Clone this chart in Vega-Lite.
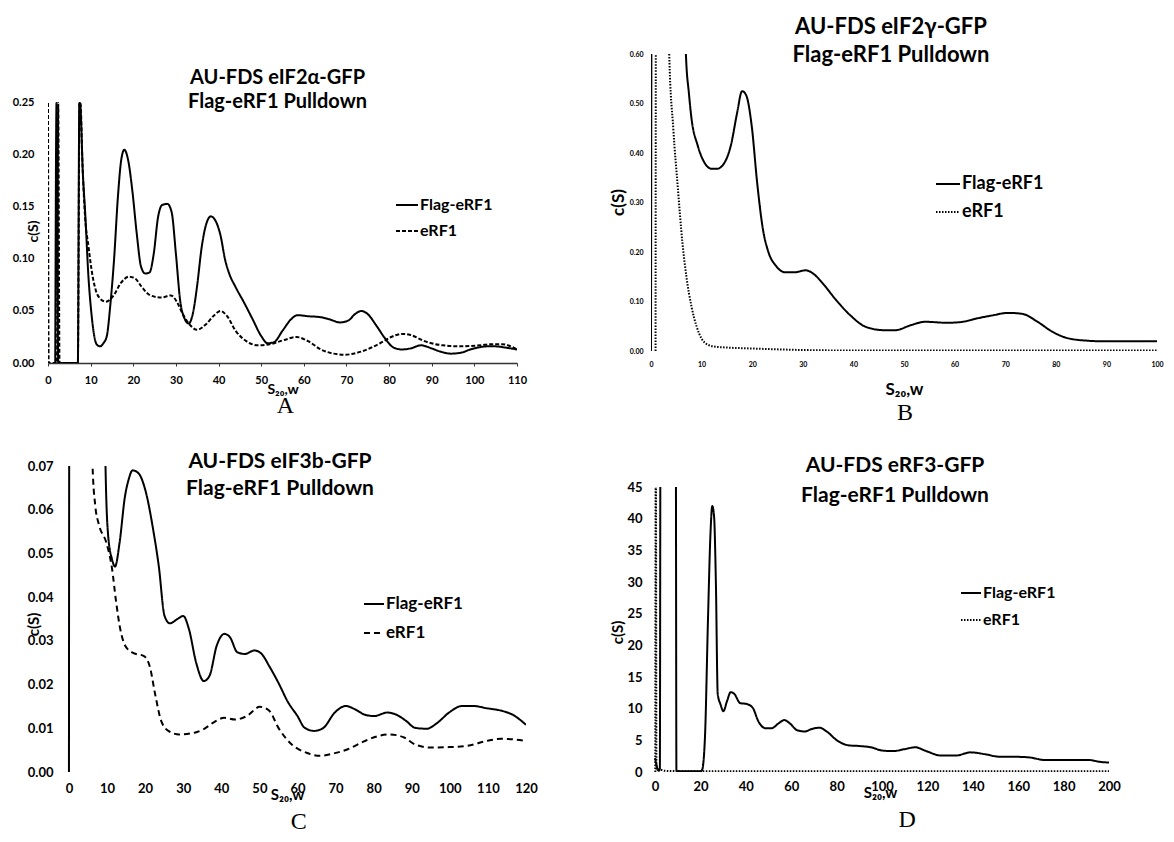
{
"$schema": "https://vega.github.io/schema/vega-lite/v6.json",
"padding": {"left": 12, "top": 16, "right": 4, "bottom": 4},
"background": "white",
"config": {
  "font": "Lato, Open Sans, sans-serif",
  "view": {"stroke": null},
  "axis": {"labelFontWeight": "bold", "titleFontWeight": "bold", "labelColor": "#000", "titleColor": "#000", "grid": false, "labelOverlap": false, "labelFlush": false},
  "title": {"color": "#000", "fontWeight": "bold", "font": "Lato, Open Sans, sans-serif"},
  "legend": {"labelColor": "#000", "labelFontWeight": "bold"}
},
"datasets": {
  "A": [
    {"s":1.7,"c":0,"series":"Flag-eRF1"},{"s":2.0,"c":0.25,"series":"Flag-eRF1"},{"s":2.4,"c":0,"series":"Flag-eRF1"},{"s":7.0,"c":0,"series":"Flag-eRF1"},{"s":7.35,"c":0.25,"series":"Flag-eRF1"},{"s":7.5,"c":0.25,"series":"Flag-eRF1"},{"s":8.2,"c":0.18,"series":"Flag-eRF1"},{"s":8.7,"c":0.146,"series":"Flag-eRF1"},{"s":9.5,"c":0.082,"series":"Flag-eRF1"},{"s":10.2,"c":0.047,"series":"Flag-eRF1"},{"s":11.4,"c":0.018,"series":"Flag-eRF1"},{"s":12.2,"c":0.016,"series":"Flag-eRF1"},{"s":13.0,"c":0.019,"series":"Flag-eRF1"},{"s":13.8,"c":0.026,"series":"Flag-eRF1"},{"s":14.6,"c":0.055,"series":"Flag-eRF1"},{"s":15.5,"c":0.1,"series":"Flag-eRF1"},{"s":16.4,"c":0.16,"series":"Flag-eRF1"},{"s":17.2,"c":0.196,"series":"Flag-eRF1"},{"s":17.9,"c":0.205,"series":"Flag-eRF1"},{"s":18.8,"c":0.195,"series":"Flag-eRF1"},{"s":19.8,"c":0.165,"series":"Flag-eRF1"},{"s":20.8,"c":0.125,"series":"Flag-eRF1"},{"s":21.8,"c":0.093,"series":"Flag-eRF1"},{"s":22.8,"c":0.086,"series":"Flag-eRF1"},{"s":23.8,"c":0.087,"series":"Flag-eRF1"},{"s":24.8,"c":0.105,"series":"Flag-eRF1"},{"s":25.8,"c":0.14,"series":"Flag-eRF1"},{"s":26.8,"c":0.152,"series":"Flag-eRF1"},{"s":28.0,"c":0.153,"series":"Flag-eRF1"},{"s":29.0,"c":0.145,"series":"Flag-eRF1"},{"s":30.0,"c":0.105,"series":"Flag-eRF1"},{"s":31.0,"c":0.06,"series":"Flag-eRF1"},{"s":32.0,"c":0.043,"series":"Flag-eRF1"},{"s":33.0,"c":0.038,"series":"Flag-eRF1"},{"s":34.0,"c":0.048,"series":"Flag-eRF1"},{"s":35.0,"c":0.075,"series":"Flag-eRF1"},{"s":36.0,"c":0.11,"series":"Flag-eRF1"},{"s":37.0,"c":0.132,"series":"Flag-eRF1"},{"s":38.2,"c":0.141,"series":"Flag-eRF1"},{"s":39.5,"c":0.135,"series":"Flag-eRF1"},{"s":40.5,"c":0.122,"series":"Flag-eRF1"},{"s":41.5,"c":0.1,"series":"Flag-eRF1"},{"s":42.5,"c":0.086,"series":"Flag-eRF1"},{"s":44.0,"c":0.073,"series":"Flag-eRF1"},{"s":46.0,"c":0.058,"series":"Flag-eRF1"},{"s":48.0,"c":0.042,"series":"Flag-eRF1"},{"s":50.0,"c":0.026,"series":"Flag-eRF1"},{"s":51.5,"c":0.019,"series":"Flag-eRF1"},{"s":53.0,"c":0.02,"series":"Flag-eRF1"},{"s":55.0,"c":0.031,"series":"Flag-eRF1"},{"s":57.0,"c":0.042,"series":"Flag-eRF1"},{"s":58.5,"c":0.046,"series":"Flag-eRF1"},{"s":61.0,"c":0.045,"series":"Flag-eRF1"},{"s":64.0,"c":0.044,"series":"Flag-eRF1"},{"s":66.0,"c":0.042,"series":"Flag-eRF1"},{"s":68.5,"c":0.039,"series":"Flag-eRF1"},{"s":70.5,"c":0.041,"series":"Flag-eRF1"},{"s":72.0,"c":0.047,"series":"Flag-eRF1"},{"s":73.5,"c":0.05,"series":"Flag-eRF1"},{"s":75.0,"c":0.047,"series":"Flag-eRF1"},{"s":77.0,"c":0.036,"series":"Flag-eRF1"},{"s":79.0,"c":0.024,"series":"Flag-eRF1"},{"s":81.0,"c":0.015,"series":"Flag-eRF1"},{"s":83.0,"c":0.013,"series":"Flag-eRF1"},{"s":85.0,"c":0.014,"series":"Flag-eRF1"},{"s":87.5,"c":0.017,"series":"Flag-eRF1"},{"s":90.0,"c":0.014,"series":"Flag-eRF1"},{"s":92.0,"c":0.011,"series":"Flag-eRF1"},{"s":94.5,"c":0.009,"series":"Flag-eRF1"},{"s":97.0,"c":0.01,"series":"Flag-eRF1"},{"s":99.0,"c":0.013,"series":"Flag-eRF1"},{"s":101.0,"c":0.015,"series":"Flag-eRF1"},{"s":103.0,"c":0.016,"series":"Flag-eRF1"},{"s":105.0,"c":0.016,"series":"Flag-eRF1"},{"s":107.0,"c":0.015,"series":"Flag-eRF1"},{"s":110.0,"c":0.013,"series":"Flag-eRF1"},
    {"s":0,"c":0.25,"series":"eRF1"},{"s":0.15,"c":0,"series":"eRF1"},{"s":2.1,"c":0,"series":"eRF1"},{"s":2.4,"c":0.25,"series":"eRF1"},{"s":2.7,"c":0,"series":"eRF1"},{"s":7.0,"c":0,"series":"eRF1"},{"s":7.4,"c":0.25,"series":"eRF1"},{"s":7.6,"c":0.25,"series":"eRF1"},{"s":8.1,"c":0.19,"series":"eRF1"},{"s":8.7,"c":0.14,"series":"eRF1"},{"s":9.5,"c":0.112,"series":"eRF1"},{"s":10.2,"c":0.09,"series":"eRF1"},{"s":11.2,"c":0.07,"series":"eRF1"},{"s":12.2,"c":0.062,"series":"eRF1"},{"s":13.6,"c":0.059,"series":"eRF1"},{"s":15.4,"c":0.065,"series":"eRF1"},{"s":17.1,"c":0.077,"series":"eRF1"},{"s":19.0,"c":0.083,"series":"eRF1"},{"s":20.5,"c":0.081,"series":"eRF1"},{"s":22.0,"c":0.073,"series":"eRF1"},{"s":24.0,"c":0.065,"series":"eRF1"},{"s":26.6,"c":0.063,"series":"eRF1"},{"s":28.8,"c":0.065,"series":"eRF1"},{"s":30.2,"c":0.059,"series":"eRF1"},{"s":31.5,"c":0.048,"series":"eRF1"},{"s":33.0,"c":0.038,"series":"eRF1"},{"s":35.0,"c":0.032,"series":"eRF1"},{"s":37.0,"c":0.037,"series":"eRF1"},{"s":39.0,"c":0.046,"series":"eRF1"},{"s":40.5,"c":0.05,"series":"eRF1"},{"s":42.0,"c":0.045,"series":"eRF1"},{"s":44.0,"c":0.031,"series":"eRF1"},{"s":46.5,"c":0.021,"series":"eRF1"},{"s":49.2,"c":0.017,"series":"eRF1"},{"s":52.0,"c":0.018,"series":"eRF1"},{"s":55.3,"c":0.022,"series":"eRF1"},{"s":58.3,"c":0.025,"series":"eRF1"},{"s":61.0,"c":0.021,"series":"eRF1"},{"s":64.0,"c":0.013,"series":"eRF1"},{"s":67.0,"c":0.009,"series":"eRF1"},{"s":69.6,"c":0.008,"series":"eRF1"},{"s":73.5,"c":0.011,"series":"eRF1"},{"s":77.9,"c":0.019,"series":"eRF1"},{"s":80.5,"c":0.025,"series":"eRF1"},{"s":83.0,"c":0.028,"series":"eRF1"},{"s":85.0,"c":0.027,"series":"eRF1"},{"s":88.3,"c":0.021,"series":"eRF1"},{"s":92.6,"c":0.017,"series":"eRF1"},{"s":97.0,"c":0.016,"series":"eRF1"},{"s":101.3,"c":0.017,"series":"eRF1"},{"s":104.0,"c":0.018,"series":"eRF1"},{"s":106.5,"c":0.018,"series":"eRF1"},{"s":110.0,"c":0.013,"series":"eRF1"}
  ],
  "B": [
    {"s":0,"c":0,"series":"Flag-eRF1"},{"s":0.15,"c":0.9,"series":"Flag-eRF1"},{"s":6.6,"c":0.9,"series":"Flag-eRF1"},{"s":6.9,"c":0.6,"series":"Flag-eRF1"},{"s":7.5,"c":0.52,"series":"Flag-eRF1"},{"s":8.0,"c":0.47,"series":"Flag-eRF1"},{"s":9.2,"c":0.416,"series":"Flag-eRF1"},{"s":10.6,"c":0.38,"series":"Flag-eRF1"},{"s":12.0,"c":0.368,"series":"Flag-eRF1"},{"s":13.0,"c":0.368,"series":"Flag-eRF1"},{"s":14.3,"c":0.377,"series":"Flag-eRF1"},{"s":15.8,"c":0.416,"series":"Flag-eRF1"},{"s":17.0,"c":0.48,"series":"Flag-eRF1"},{"s":18.0,"c":0.525,"series":"Flag-eRF1"},{"s":18.8,"c":0.517,"series":"Flag-eRF1"},{"s":19.9,"c":0.455,"series":"Flag-eRF1"},{"s":21.0,"c":0.338,"series":"Flag-eRF1"},{"s":22.1,"c":0.247,"series":"Flag-eRF1"},{"s":23.2,"c":0.2,"series":"Flag-eRF1"},{"s":24.7,"c":0.172,"series":"Flag-eRF1"},{"s":26.5,"c":0.159,"series":"Flag-eRF1"},{"s":28.4,"c":0.159,"series":"Flag-eRF1"},{"s":30.6,"c":0.163,"series":"Flag-eRF1"},{"s":32.1,"c":0.156,"series":"Flag-eRF1"},{"s":33.9,"c":0.137,"series":"Flag-eRF1"},{"s":36.5,"c":0.104,"series":"Flag-eRF1"},{"s":39.4,"c":0.072,"series":"Flag-eRF1"},{"s":42.4,"c":0.049,"series":"Flag-eRF1"},{"s":46.1,"c":0.042,"series":"Flag-eRF1"},{"s":48.3,"c":0.042,"series":"Flag-eRF1"},{"s":51.3,"c":0.052,"series":"Flag-eRF1"},{"s":54.2,"c":0.059,"series":"Flag-eRF1"},{"s":58.6,"c":0.057,"series":"Flag-eRF1"},{"s":61.6,"c":0.059,"series":"Flag-eRF1"},{"s":64.5,"c":0.066,"series":"Flag-eRF1"},{"s":67.5,"c":0.072,"series":"Flag-eRF1"},{"s":70.5,"c":0.077,"series":"Flag-eRF1"},{"s":73.4,"c":0.075,"series":"Flag-eRF1"},{"s":76.4,"c":0.059,"series":"Flag-eRF1"},{"s":79.3,"c":0.039,"series":"Flag-eRF1"},{"s":82.3,"c":0.026,"series":"Flag-eRF1"},{"s":86.0,"c":0.021,"series":"Flag-eRF1"},{"s":89.7,"c":0.0195,"series":"Flag-eRF1"},{"s":93.4,"c":0.0195,"series":"Flag-eRF1"},{"s":100,"c":0.0195,"series":"Flag-eRF1"},
    {"s":0.9,"c":0,"series":"eRF1"},{"s":1.0,"c":0.9,"series":"eRF1"},{"s":3.4,"c":0.9,"series":"eRF1"},{"s":3.6,"c":0.6,"series":"eRF1"},{"s":4.4,"c":0.45,"series":"eRF1"},{"s":5.3,"c":0.33,"series":"eRF1"},{"s":6.2,"c":0.22,"series":"eRF1"},{"s":7.0,"c":0.15,"series":"eRF1"},{"s":8.0,"c":0.09,"series":"eRF1"},{"s":9.0,"c":0.05,"series":"eRF1"},{"s":10.0,"c":0.025,"series":"eRF1"},{"s":11.0,"c":0.014,"series":"eRF1"},{"s":12.5,"c":0.009,"series":"eRF1"},{"s":15,"c":0.007,"series":"eRF1"},{"s":20,"c":0.005,"series":"eRF1"},{"s":30,"c":0.002,"series":"eRF1"},{"s":40,"c":0.001,"series":"eRF1"},{"s":100,"c":0.001,"series":"eRF1"}
  ],
  "C": [
    {"s":0,"c":0,"series":"Flag-eRF1"},{"s":0.1,"c":0.09,"series":"Flag-eRF1"},{"s":9.3,"c":0.09,"series":"Flag-eRF1"},{"s":9.6,"c":0.07,"series":"Flag-eRF1"},{"s":10.3,"c":0.054,"series":"Flag-eRF1"},{"s":11.3,"c":0.0487,"series":"Flag-eRF1"},{"s":12.1,"c":0.047,"series":"Flag-eRF1"},{"s":13.3,"c":0.0525,"series":"Flag-eRF1"},{"s":14.7,"c":0.063,"series":"Flag-eRF1"},{"s":15.7,"c":0.067,"series":"Flag-eRF1"},{"s":16.7,"c":0.069,"series":"Flag-eRF1"},{"s":18.2,"c":0.0684,"series":"Flag-eRF1"},{"s":20.2,"c":0.064,"series":"Flag-eRF1"},{"s":22.1,"c":0.0555,"series":"Flag-eRF1"},{"s":23.6,"c":0.047,"series":"Flag-eRF1"},{"s":25.1,"c":0.0357,"series":"Flag-eRF1"},{"s":26.5,"c":0.034,"series":"Flag-eRF1"},{"s":28.5,"c":0.035,"series":"Flag-eRF1"},{"s":30,"c":0.0357,"series":"Flag-eRF1"},{"s":31.5,"c":0.0327,"series":"Flag-eRF1"},{"s":33.4,"c":0.025,"series":"Flag-eRF1"},{"s":35.4,"c":0.0208,"series":"Flag-eRF1"},{"s":36.9,"c":0.022,"series":"Flag-eRF1"},{"s":38.8,"c":0.0289,"series":"Flag-eRF1"},{"s":40.8,"c":0.0316,"series":"Flag-eRF1"},{"s":42.3,"c":0.0308,"series":"Flag-eRF1"},{"s":44.2,"c":0.0274,"series":"Flag-eRF1"},{"s":46.2,"c":0.027,"series":"Flag-eRF1"},{"s":48.7,"c":0.0278,"series":"Flag-eRF1"},{"s":50.6,"c":0.027,"series":"Flag-eRF1"},{"s":52.6,"c":0.0242,"series":"Flag-eRF1"},{"s":55,"c":0.0204,"series":"Flag-eRF1"},{"s":57.5,"c":0.016,"series":"Flag-eRF1"},{"s":60,"c":0.0128,"series":"Flag-eRF1"},{"s":61.9,"c":0.0101,"series":"Flag-eRF1"},{"s":64.4,"c":0.0094,"series":"Flag-eRF1"},{"s":66.8,"c":0.0101,"series":"Flag-eRF1"},{"s":69.8,"c":0.0136,"series":"Flag-eRF1"},{"s":72.7,"c":0.0151,"series":"Flag-eRF1"},{"s":75.2,"c":0.0143,"series":"Flag-eRF1"},{"s":77.7,"c":0.0131,"series":"Flag-eRF1"},{"s":80.1,"c":0.0128,"series":"Flag-eRF1"},{"s":83.6,"c":0.0136,"series":"Flag-eRF1"},{"s":86,"c":0.0131,"series":"Flag-eRF1"},{"s":88.5,"c":0.0117,"series":"Flag-eRF1"},{"s":90.9,"c":0.0101,"series":"Flag-eRF1"},{"s":93.9,"c":0.0099,"series":"Flag-eRF1"},{"s":96.8,"c":0.0113,"series":"Flag-eRF1"},{"s":99.8,"c":0.0136,"series":"Flag-eRF1"},{"s":103.2,"c":0.0151,"series":"Flag-eRF1"},{"s":106.2,"c":0.0151,"series":"Flag-eRF1"},{"s":109.6,"c":0.0146,"series":"Flag-eRF1"},{"s":113.6,"c":0.014,"series":"Flag-eRF1"},{"s":116.5,"c":0.0131,"series":"Flag-eRF1"},{"s":120,"c":0.0108,"series":"Flag-eRF1"},
    {"s":5.9,"c":0.09,"series":"eRF1"},{"s":6.2,"c":0.07,"series":"eRF1"},{"s":6.9,"c":0.061,"series":"eRF1"},{"s":7.9,"c":0.0565,"series":"eRF1"},{"s":9.8,"c":0.0525,"series":"eRF1"},{"s":11.3,"c":0.0466,"series":"eRF1"},{"s":12.3,"c":0.0395,"series":"eRF1"},{"s":13.3,"c":0.0335,"series":"eRF1"},{"s":14.7,"c":0.029,"series":"eRF1"},{"s":16.7,"c":0.0273,"series":"eRF1"},{"s":19.7,"c":0.0265,"series":"eRF1"},{"s":21.2,"c":0.0242,"series":"eRF1"},{"s":22.7,"c":0.0175,"series":"eRF1"},{"s":24.1,"c":0.012,"series":"eRF1"},{"s":26.1,"c":0.0094,"series":"eRF1"},{"s":29,"c":0.0086,"series":"eRF1"},{"s":33,"c":0.009,"series":"eRF1"},{"s":35.4,"c":0.0098,"series":"eRF1"},{"s":37.9,"c":0.0113,"series":"eRF1"},{"s":40.8,"c":0.0124,"series":"eRF1"},{"s":43.7,"c":0.012,"series":"eRF1"},{"s":46.7,"c":0.0128,"series":"eRF1"},{"s":50.1,"c":0.0149,"series":"eRF1"},{"s":52.6,"c":0.014,"series":"eRF1"},{"s":55,"c":0.0101,"series":"eRF1"},{"s":58.5,"c":0.0063,"series":"eRF1"},{"s":62.4,"c":0.0044,"series":"eRF1"},{"s":65.9,"c":0.0037,"series":"eRF1"},{"s":69.3,"c":0.0042,"series":"eRF1"},{"s":73.2,"c":0.0052,"series":"eRF1"},{"s":77.7,"c":0.0071,"series":"eRF1"},{"s":81.1,"c":0.0082,"series":"eRF1"},{"s":84.1,"c":0.0086,"series":"eRF1"},{"s":88,"c":0.0079,"series":"eRF1"},{"s":90.9,"c":0.0063,"series":"eRF1"},{"s":94.9,"c":0.0056,"series":"eRF1"},{"s":99.8,"c":0.0057,"series":"eRF1"},{"s":104.7,"c":0.006,"series":"eRF1"},{"s":109.6,"c":0.0071,"series":"eRF1"},{"s":113.6,"c":0.0076,"series":"eRF1"},{"s":120,"c":0.0071,"series":"eRF1"}
  ],
  "D": [
    {"s":0,"c":2.2,"series":"Flag-eRF1"},{"s":1.6,"c":0.2,"series":"Flag-eRF1"},{"s":2.1,"c":0.5,"series":"Flag-eRF1"},{"s":2.4,"c":60,"series":"Flag-eRF1"},{"s":9.1,"c":60,"series":"Flag-eRF1"},{"s":9.4,"c":0.2,"series":"Flag-eRF1"},{"s":12,"c":0.1,"series":"Flag-eRF1"},{"s":20,"c":0.1,"series":"Flag-eRF1"},{"s":20.7,"c":0.3,"series":"Flag-eRF1"},{"s":22,"c":5.7,"series":"Flag-eRF1"},{"s":23.3,"c":24,"series":"Flag-eRF1"},{"s":24.4,"c":37.6,"series":"Flag-eRF1"},{"s":25.2,"c":42,"series":"Flag-eRF1"},{"s":26,"c":40.3,"series":"Flag-eRF1"},{"s":26.8,"c":29.7,"series":"Flag-eRF1"},{"s":27.6,"c":12.3,"series":"Flag-eRF1"},{"s":28.8,"c":10.7,"series":"Flag-eRF1"},{"s":30.1,"c":9.6,"series":"Flag-eRF1"},{"s":31.7,"c":11.2,"series":"Flag-eRF1"},{"s":33.3,"c":12.6,"series":"Flag-eRF1"},{"s":35,"c":12.3,"series":"Flag-eRF1"},{"s":37.4,"c":10.9,"series":"Flag-eRF1"},{"s":40.7,"c":10.7,"series":"Flag-eRF1"},{"s":43.1,"c":10.1,"series":"Flag-eRF1"},{"s":45.5,"c":8,"series":"Flag-eRF1"},{"s":48.8,"c":6.9,"series":"Flag-eRF1"},{"s":51.2,"c":6.9,"series":"Flag-eRF1"},{"s":54.5,"c":7.7,"series":"Flag-eRF1"},{"s":56.9,"c":8.2,"series":"Flag-eRF1"},{"s":59.3,"c":7.7,"series":"Flag-eRF1"},{"s":62.6,"c":6.6,"series":"Flag-eRF1"},{"s":65.9,"c":6.4,"series":"Flag-eRF1"},{"s":69.1,"c":6.8,"series":"Flag-eRF1"},{"s":72.4,"c":7,"series":"Flag-eRF1"},{"s":75.6,"c":6.4,"series":"Flag-eRF1"},{"s":80.5,"c":4.9,"series":"Flag-eRF1"},{"s":85.4,"c":4.2,"series":"Flag-eRF1"},{"s":90.2,"c":4.1,"series":"Flag-eRF1"},{"s":95.1,"c":3.9,"series":"Flag-eRF1"},{"s":100,"c":3.4,"series":"Flag-eRF1"},{"s":104.9,"c":3.3,"series":"Flag-eRF1"},{"s":109.8,"c":3.6,"series":"Flag-eRF1"},{"s":114.6,"c":3.9,"series":"Flag-eRF1"},{"s":119.5,"c":3.3,"series":"Flag-eRF1"},{"s":126,"c":2.6,"series":"Flag-eRF1"},{"s":132.5,"c":2.6,"series":"Flag-eRF1"},{"s":139,"c":3.1,"series":"Flag-eRF1"},{"s":145.5,"c":2.8,"series":"Flag-eRF1"},{"s":152,"c":2.4,"series":"Flag-eRF1"},{"s":158.5,"c":2.4,"series":"Flag-eRF1"},{"s":165,"c":2.3,"series":"Flag-eRF1"},{"s":171.5,"c":1.9,"series":"Flag-eRF1"},{"s":178,"c":1.9,"series":"Flag-eRF1"},{"s":184.5,"c":1.9,"series":"Flag-eRF1"},{"s":191,"c":1.9,"series":"Flag-eRF1"},{"s":196,"c":1.6,"series":"Flag-eRF1"},{"s":200,"c":1.5,"series":"Flag-eRF1"},
    {"s":0.1,"c":0,"series":"eRF1"},{"s":0.3,"c":60,"series":"eRF1"},{"s":0.6,"c":0.4,"series":"eRF1"},{"s":2,"c":0.4,"series":"eRF1"},{"s":4,"c":0.2,"series":"eRF1"},{"s":8,"c":0.15,"series":"eRF1"},{"s":20,"c":0.1,"series":"eRF1"},{"s":60,"c":0.1,"series":"eRF1"},{"s":200,"c":0.1,"series":"eRF1"}
  ]
},
"resolve": {"scale": {"strokeDash": "independent"}, "legend": {"strokeDash": "independent"}},
"spacing": 71,
"hconcat": [
  {
    "spacing": 33,
    "resolve": {"scale": {"strokeDash": "independent"}, "legend": {"strokeDash": "independent"}},
    "vconcat": [
      {
        "title": {"text": "A", "orient": "bottom", "anchor": "middle", "font": "Liberation Serif", "fontSize": 24, "fontWeight": "normal", "offset": -2, "dx": 16},
        "vconcat": [
          {
            "width": 469, "height": 309,
            "title": {"text": ["AU-FDS eIF2α-GFP", "Flag-eRF1 Pulldown"], "fontSize": 20, "lineHeight": 24, "offset": -58, "dx": -5},
            "data": {"name": "A"},
            "mark": {"type": "line", "clip": true, "color": "black", "strokeWidth": 2, "interpolate": "monotone"},
            "encoding": {
              "x": {"field": "s", "type": "quantitative", "scale": {"domain": [0, 110], "nice": false},
                    "axis": {"values": [0,10,20,30,40,50,60,70,80,90,100,110], "title": "S₂₀,w", "titleFontSize": 14, "titlePadding": -3, "labelFontSize": 11, "labelPadding": 8, "tickSize": 3, "tickColor": "#333", "domainColor": "#333", "domainWidth": 1.5}},
              "y": {"field": "c", "type": "quantitative", "scale": {"domain": [0, 0.2971], "nice": false},
                    "axis": {"values": [0,0.05,0.1,0.15,0.2,0.25], "format": ".2f", "labelFontSize": 11, "labelPadding": 14, "ticks": false, "domain": false, "title": "c(S)", "titleFontSize": 14, "titleX": -15, "titleY": 177, "titleAngle": 270, "titleBaseline": "middle", "titleAlign": "center"}},
              "strokeDash": {"field": "series", "type": "nominal", "scale": {"domain": ["Flag-eRF1", "eRF1"], "range": [[1, 0], [4, 2]]},
                    "legend": {"title": null, "orient": "none", "legendX": 347, "legendY": 139, "symbolType": "stroke", "symbolSize": 484, "symbolStrokeWidth": 1.8, "symbolStrokeColor": "black", "labelFontSize": 16, "labelOffset": 1, "rowPadding": 6}}
            }
          }
        ]
      },
      {
        "title": {"text": "C", "orient": "bottom", "anchor": "middle", "font": "Liberation Serif", "fontSize": 24, "fontWeight": "normal", "offset": 8, "dx": 17},
        "vconcat": [
          {
            "width": 478, "height": 306,
            "title": {"text": ["AU-FDS eIF3b-GFP", "Flag-eRF1 Pulldown"], "fontSize": 21, "lineHeight": 27, "offset": -39, "dx": -7},
            "data": {"name": "C"},
            "mark": {"type": "line", "clip": true, "color": "black", "strokeWidth": 2, "interpolate": "monotone"},
            "encoding": {
              "x": {"field": "s", "type": "quantitative", "scale": {"domain": [-5.5, 120], "nice": false, "zero": false},
                    "axis": {"values": [0,10,20,30,40,50,60,70,80,90,100,110,120], "title": "S₂₀,w", "titleFontSize": 15, "titlePadding": -8, "labelFontSize": 13, "labelPadding": 10, "ticks": false, "domain": false}},
              "y": {"field": "c", "type": "quantitative", "scale": {"domain": [0, 0.07], "nice": false},
                    "axis": {"values": [0,0.01,0.02,0.03,0.04,0.05,0.06,0.07], "format": ".2f", "labelFontSize": 13, "labelPadding": -5, "ticks": false, "domain": false, "title": "c(S)", "titleFontSize": 15, "titleX": -15, "titleY": 158, "titleAngle": 270, "titleBaseline": "middle", "titleAlign": "center"}},
              "strokeDash": {"field": "series", "type": "nominal", "scale": {"domain": ["Flag-eRF1", "eRF1"], "range": [[1, 0], [6, 4]]},
                    "legend": {"title": null, "orient": "none", "legendX": 315, "legendY": 127, "symbolType": "stroke", "symbolSize": 400, "symbolStrokeWidth": 2, "symbolStrokeColor": "black", "labelFontSize": 17, "labelOffset": 1, "rowPadding": 10}}
            }
          }
        ]
      }
    ]
  },
  {
    "spacing": 30,
    "resolve": {"scale": {"strokeDash": "independent"}, "legend": {"strokeDash": "independent"}},
    "vconcat": [
      {
        "title": {"text": "B", "orient": "bottom", "anchor": "middle", "font": "Liberation Serif", "fontSize": 24, "fontWeight": "normal", "offset": 4, "dx": 19},
        "vconcat": [
          {
            "width": 506, "height": 297,
            "title": {"text": ["AU-FDS eIF2γ-GFP", "Flag-eRF1 Pulldown"], "fontSize": 22, "lineHeight": 28, "offset": -17, "dx": -13},
            "data": {"name": "B"},
            "mark": {"type": "line", "clip": true, "color": "black", "strokeWidth": 2, "interpolate": "monotone"},
            "encoding": {
              "x": {"field": "s", "type": "quantitative", "scale": {"domain": [0, 100], "nice": false},
                    "axis": {"values": [0,10,20,30,40,50,60,70,80,90,100], "title": "S₂₀,w", "titleFontSize": 17, "titlePadding": 14, "labelFontSize": 7, "labelPadding": 9, "ticks": false, "domain": false}},
              "y": {"field": "c", "type": "quantitative", "scale": {"domain": [0, 0.6], "nice": false},
                    "axis": {"values": [0,0.1,0.2,0.3,0.4,0.5,0.6], "format": ".2f", "labelFontSize": 7, "labelPadding": 8, "ticks": false, "domain": false, "title": "c(S)", "titleFontSize": 17, "titleX": -33, "titleY": 148, "titleAngle": 270, "titleBaseline": "middle", "titleAlign": "center"}},
              "strokeDash": {"field": "series", "type": "nominal", "scale": {"domain": ["Flag-eRF1", "eRF1"], "range": [[1, 0], [1.5, 1.5]]},
                    "legend": {"title": null, "orient": "none", "legendX": 284, "legendY": 117, "symbolType": "stroke", "symbolSize": 576, "symbolStrokeWidth": 1.8, "symbolStrokeColor": "black", "labelFontSize": 18, "labelOffset": 1, "rowPadding": 6}}
            }
          }
        ]
      },
      {
        "title": {"text": "D", "orient": "bottom", "anchor": "middle", "font": "Liberation Serif", "fontSize": 24, "fontWeight": "normal", "offset": 8, "dx": 42},
        "vconcat": [
          {
            "width": 458, "height": 285,
            "title": {"text": ["AU-FDS eRF3-GFP", "Flag-eRF1 Pulldown"], "fontSize": 21, "lineHeight": 30, "offset": -25, "dx": 15},
            "data": {"name": "D"},
            "mark": {"type": "line", "clip": true, "color": "black", "strokeWidth": 2, "interpolate": "monotone"},
            "encoding": {
              "x": {"field": "s", "type": "quantitative", "scale": {"domain": [-1.8, 200], "nice": false, "zero": false},
                    "axis": {"values": [0,20,40,60,80,100,120,140,160,180,200], "title": "S₂₀,w", "titleFontSize": 15, "titlePadding": -8, "labelFontSize": 13, "labelPadding": 8, "ticks": false, "domain": false}},
              "y": {"field": "c", "type": "quantitative", "scale": {"domain": [0, 45], "nice": false},
                    "axis": {"values": [0,5,10,15,20,25,30,35,40,45], "labelFontSize": 13, "labelPadding": 9, "ticks": false, "domain": false, "title": "c(S)", "titleFontSize": 15, "titleX": -34, "titleY": 145, "titleAngle": 270, "titleBaseline": "middle", "titleAlign": "center"}},
              "strokeDash": {"field": "series", "type": "nominal", "scale": {"domain": ["Flag-eRF1", "eRF1"], "range": [[1, 0], [1.5, 1.5]]},
                    "legend": {"title": null, "orient": "none", "legendX": 309, "legendY": 95, "symbolType": "stroke", "symbolSize": 400, "symbolStrokeWidth": 1.8, "symbolStrokeColor": "black", "labelFontSize": 16, "labelOffset": 1, "rowPadding": 8}}
            }
          }
        ]
      }
    ]
  }
]
}
